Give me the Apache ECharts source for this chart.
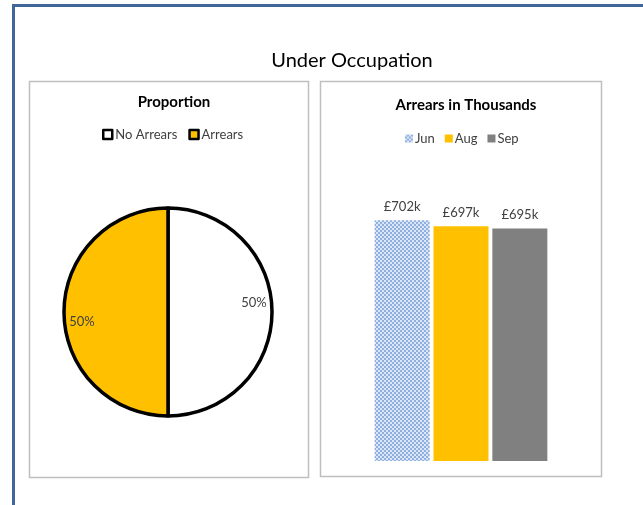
<!DOCTYPE html>
<html>
<head>
<meta charset="utf-8">
<script src="https://cdn.jsdelivr.net/npm/echarts@6/dist/echarts.min.js"></script>
<style>html,body{margin:0;padding:0;background:#fff}#c{width:643px;height:505px}</style>
</head>
<body>
<div id="c"></div>
<script>
// ---- data ----
const pieCategories = ['No Arrears', 'Arrears'];
const pieValues = [50, 50];
const barCategories = [''];
const months = ['Jun', 'Aug', 'Sep'];
const arrearsValues = [702, 697, 695];

// ---- pattern for Jun ----
const pc = document.createElement('canvas');
pc.width = 4; pc.height = 4;
const g = pc.getContext('2d');
g.fillStyle = '#8fb0df'; g.fillRect(0, 0, 4, 4);
g.fillStyle = '#dbe6f6'; g.fillRect(0, 0, 2, 2); g.fillRect(2, 2, 2, 2);
const junPattern = { image: pc, repeat: 'repeat' };

const barColors = [junPattern, '#FFC000', '#808080'];
const pieColors = ['#FFFFFF', '#FFC000'];
const pieLabelShift = [[31, -9], [-31, 10]];

const font = 'Lato, "Open Sans", sans-serif';
const chart = echarts.init(document.getElementById('c'), null, { renderer: 'canvas' });

const option = {
  animation: false,
  textStyle: { fontFamily: font },
  title: [
    { text: 'Under Occupation', left: 347, top: 46, textAlign: 'center',
      textStyle: { fontFamily: font, fontSize: 20, fontWeight: 'normal', color: '#000' } },
    { text: 'Proportion', left: 169, top: 90, textAlign: 'center',
      textStyle: { fontFamily: font, fontSize: 15, fontWeight: 'bold', color: '#000' } },
    { text: 'Arrears in Thousands', left: 461, top: 93, textAlign: 'center',
      textStyle: { fontFamily: font, fontSize: 15, fontWeight: 'bold', color: '#000' } }
  ],
  legend: [
    { data: pieCategories, left: 97, top: 123, itemWidth: 9, itemHeight: 9, itemGap: 11,
      icon: 'rect', itemStyle: { borderWidth: 2.5, borderColor: '#000' },
      textStyle: { fontFamily: font, fontSize: 13, color: '#404040', padding: [0, 0, 0, -2] } },
    { data: months, left: 400, top: 127, itemWidth: 8, itemHeight: 8, itemGap: 10,
      icon: 'rect', textStyle: { fontFamily: font, fontSize: 13, color: '#404040', padding: [0, 0, 0, -3] } }
  ],
  grid: { left: 330, right: 51, top: 163, bottom: 44 },
  xAxis: { type: 'category', data: barCategories, show: false },
  yAxis: { type: 'value', min: 500, max: 750, show: false },
  series: [
    {
      type: 'pie', center: [168, 312], radius: 104, startAngle: 90, clockwise: true,
      data: pieCategories.map((n, i) => ({ name: n, value: pieValues[i], itemStyle: { color: pieColors[i] } })),
      itemStyle: { borderColor: '#000', borderWidth: 3.5 },
      label: { show: true, position: 'inside', formatter: '{d}%', fontFamily: font, fontSize: 13, color: '#404040' },
      labelLayout: p => ({ dx: pieLabelShift[p.dataIndex][0], dy: pieLabelShift[p.dataIndex][1] }),
      emphasis: { disabled: true }
    },
    ...months.map((m, i) => ({
      type: 'bar', name: m, data: [arrearsValues[i]], barWidth: 55, barGap: '7%',
      itemStyle: { color: barColors[i] },
      label: { show: true, position: 'top', distance: 7, formatter: '£{c}k', fontFamily: font, fontSize: 13, color: '#404040' },
      emphasis: { disabled: true }
    }))
  ],
  graphic: [
    { type: 'polyline', shape: { points: [[13.5, 505], [13.5, 5.5], [643, 5.5]] },
      style: { stroke: '#41679a', lineWidth: 3, fill: null }, silent: true },
    { type: 'rect', shape: { x: 29.5, y: 81.5, width: 279, height: 396 },
      style: { stroke: '#bfbfbf', lineWidth: 1.5, fill: null }, silent: true, z: -1 },
    { type: 'rect', shape: { x: 320.5, y: 81.5, width: 281, height: 395 },
      style: { stroke: '#bfbfbf', lineWidth: 1.5, fill: null }, silent: true, z: -1 }
  ]
};
chart.setOption(option);
</script>
</body>
</html>
